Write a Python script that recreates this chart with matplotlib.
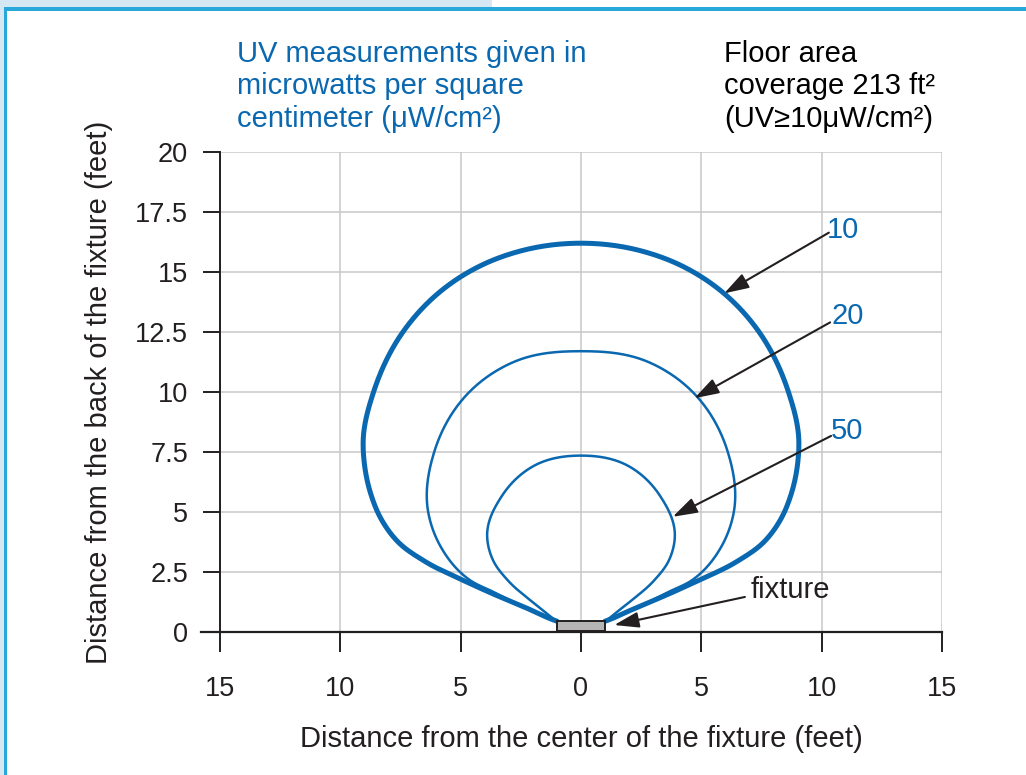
import numpy as np
import matplotlib
matplotlib.use('Agg')
import matplotlib.pyplot as plt
from matplotlib.patches import Rectangle

plt.rcParams['font.family'] = ['Liberation Sans', 'DejaVu Sans']

#=====data (right half of each contour, from the fixture corner up to the top)
x10 = [1.0, 2.2, 3.5, 5.0, 6.5, 7.6, 8.3, 8.75, 9.0, 9.05, 8.62, 7.4, 5.95, 4.2, 2.5, 0.0]
y10 = [0.45, 0.97, 1.52, 2.2, 2.95, 3.75, 4.7, 5.8, 7.0, 8.0, 10.0, 12.5, 14.1, 15.25, 15.88, 16.2]
x20 = [1.0, 1.9, 2.8, 3.7, 4.6, 5.8, 6.35, 6.1, 4.64, 2.8, 0.0]
y20 = [0.45, 0.85, 1.25, 1.7, 2.15, 3.5, 5.0, 7.5, 10.0, 11.25, 11.7]
x50 = [1.0, 1.55, 2.08, 3.04, 3.66, 3.9, 3.3, 2.0, 0.0]
y50 = [0.45, 0.88, 1.3, 2.15, 3.0, 4.0, 5.65, 6.9, 7.35]
# height of the widest part of each contour (used as centre when drawing)
mid10, mid20, mid50 = 8.0, 6.0, 4.0

levels = ['10', '20', '50']
label_pos = [(10.22, 16.75), (10.39, 13.17), (10.39, 8.37)]
arrow_tail = [(10.3, 16.64), (10.35, 12.9), (10.39, 8.17)]
arrow_tip = [(5.95, 14.11), (4.71, 9.74), (3.81, 4.8)]

fixture_x = [-1.0, 1.0]
fixture_y = [0.05, 0.46]
fixture_label = (7.06, 1.75)
fixture_tail = (6.81, 1.46)
fixture_tip = (1.38, 0.29)

xticks = [-15, -10, -5, 0, 5, 10, 15]
xticklabels = ['15', '10', '5', '0', '5', '10', '15']
yticks = [0, 2.5, 5, 7.5, 10, 12.5, 15, 17.5, 20]
yticklabels = ['0', '2.5', '5', '7.5', '10', '12.5', '15', '17.5', '20']

blue = '#0a68b0'
dark = '#231f20'
fs = 21


def contour(xr, yr, yc, n=600):
    # mirror the right half, then run a cubic hermite through r(angle) around (0, yc)
    xr = np.array(xr, dtype=float)
    yr = np.array(yr, dtype=float)
    xs = np.concatenate([xr, -xr[::-1][1:]])
    ys = np.concatenate([yr, yr[::-1][1:]])
    phi = np.arctan2(xs, ys - yc)[::-1]
    r = np.hypot(xs, ys - yc)[::-1]
    m = np.gradient(r, phi)
    p = np.linspace(phi[0], phi[-1], n)
    i = np.clip(np.searchsorted(phi, p) - 1, 0, len(phi) - 2)
    h = phi[i + 1] - phi[i]
    t = (p - phi[i]) / h
    rr = ((2 * t**3 - 3 * t**2 + 1) * r[i] + (t**3 - 2 * t**2 + t) * h * m[i]
          + (-2 * t**3 + 3 * t**2) * r[i + 1] + (t**3 - t**2) * h * m[i + 1])
    return rr * np.sin(p), yc + rr * np.cos(p)


fig = plt.figure(figsize=(10.26, 7.75), dpi=100)

# frame decoration
W, H = 1026.0, 775.0
fig.patches.append(Rectangle((0, 1 - 8 / H), 492 / W, 8 / H, transform=fig.transFigure,
                             facecolor='#d5e7f3', edgecolor='none'))
fig.patches.append(Rectangle((0, 0), 4 / W, 1, transform=fig.transFigure,
                             facecolor='#d5e7f3', edgecolor='none'))
fig.patches.append(Rectangle((4 / W, 1 - 10.5 / H), 1, 3 / H, transform=fig.transFigure,
                             facecolor='#27a8d8', edgecolor='none'))
fig.patches.append(Rectangle((4 / W, 0), 2.7 / W, 1 - 7.5 / H, transform=fig.transFigure,
                             facecolor='#27a8d8', edgecolor='none'))

ax = fig.add_axes([220 / W, 1 - 632 / H, 722 / W, 480 / H])
ax.set_xlim(-15, 15)
ax.set_ylim(0, 20)

ax.set_xticks(xticks)
ax.set_xticklabels(xticklabels)
ax.set_yticks(yticks)
ax.set_yticklabels(yticklabels)
ax.grid(True, color='#c8c8c8', lw=1.1)
ax.set_axisbelow(True)
for s in ['top', 'right', 'bottom']:
    ax.spines[s].set_visible(False)
ax.spines['left'].set_color(dark)
ax.spines['left'].set_linewidth(1.4)
ax.axhline(0, xmin=-0.026, xmax=1, color=dark, lw=1.6, clip_on=False, zorder=5)

ax.tick_params(axis='x', direction='out', length=14.5, width=1.4, color=dark, pad=17,
               labelsize=19.5, labelcolor=dark)
ax.tick_params(axis='y', direction='out', length=12, width=1.4, color=dark, pad=11,
               labelsize=19.5, labelcolor=dark)

ax.set_xlabel('Distance from the center of the fixture (feet)', fontsize=fs, color=dark, labelpad=17)
ax.set_ylabel('Distance from the back of the fixture (feet)', fontsize=fs, color=dark, labelpad=16)

# contours
for xr, yr, yc, lw in [(x10, y10, mid10, 3.6), (x20, y20, mid20, 1.8), (x50, y50, mid50, 1.8)]:
    cx, cy = contour(xr, yr, yc)
    ax.plot(cx, cy, color=blue, lw=lw, solid_capstyle='round', zorder=3)

# fixture
ax.add_patch(Rectangle((fixture_x[0], fixture_y[0]), fixture_x[1] - fixture_x[0],
                       fixture_y[1] - fixture_y[0], facecolor='#b5b5b5',
                       edgecolor=dark, lw=1.4, zorder=4))

# labels and arrows
aprops = dict(arrowstyle='-|>,head_length=0.75,head_width=0.24', color=dark, lw=1.5,
              mutation_scale=20, shrinkA=0, shrinkB=0)
for lev, lp, tail, tip in zip(levels, label_pos, arrow_tail, arrow_tip):
    ax.annotate('', xy=tip, xytext=tail, arrowprops=aprops, zorder=6)
    ax.text(lp[0], lp[1], lev, color=blue, fontsize=fs, ha='left', va='center')

ax.annotate('', xy=fixture_tip, xytext=fixture_tail, arrowprops=aprops, zorder=6)
ax.text(fixture_label[0], fixture_label[1], 'fixture', color=dark, fontsize=fs,
        ha='left', va='center')

fig.text(237 / W, 1 - 40 / H,
         'UV measurements given in\nmicrowatts per square\ncentimeter (\u03bcW/cm\u00b2)',
         color=blue, fontsize=fs, ha='left', va='top', linespacing=1.2)
fig.text(724 / W, 1 - 40 / H,
         'Floor area\ncoverage 213 ft\u00b2\n(UV\u226510\u03bcW/cm\u00b2)',
         color='black', fontsize=fs, ha='left', va='top', linespacing=1.2)

fig.savefig('out.png', dpi=100)
